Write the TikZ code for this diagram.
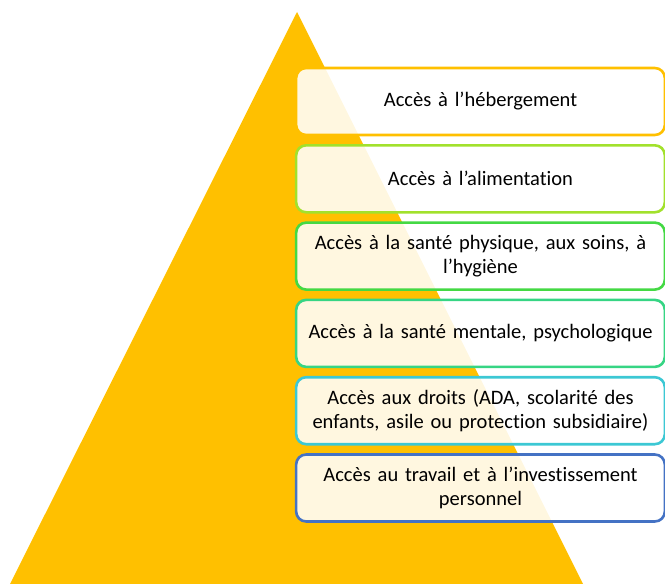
\documentclass[tikz,border=0pt]{standalone}
\usepackage{fontspec}
\setmainfont{Carlito}[Ligatures=NoCommon]
\usetikzlibrary{positioning}

\definecolor{pyramid}{HTML}{FFC000}
\definecolor{lvlA}{HTML}{FFC000}
\definecolor{lvlB}{HTML}{A2E12C}
\definecolor{lvlC}{HTML}{44D944}
\definecolor{lvlD}{HTML}{36D584}
\definecolor{lvlE}{HTML}{3CC8D4}
\definecolor{lvlF}{HTML}{4472C4}

\begin{document}
\begin{tikzpicture}[x=1pt, y=-1pt, node distance={7.7pt},
    level/.style = {draw, rectangle, rounded corners=10pt, line width=2.6pt,
        fill=white, fill opacity=0.88, text opacity=1,
        minimum width=367pt, minimum height=67pt, text width=362pt,
        align=center, font=\fontsize{20.5}{24}\selectfont}]
    \useasboundingbox (0,0) rectangle (665,584);
    \clip (0,0) rectangle (665,584);

    % the pyramid
    \fill[pyramid] (297,12) -- (583,584) -- (10,584) -- cycle;

    % the levels, top to bottom
    \node[level, draw=lvlA] (heb) at (480.5,101.5) {Accès à l’hébergement};
    \node[level, draw=lvlB] (alim) [below=of heb] {Accès à l’alimentation};
    \node[level, draw=lvlC] (sante) [below=of alim] {Accès à la santé physique, aux soins, à\\ l’hygiène};
    \node[level, draw=lvlD] (mental) [below=of sante] {Accès à la santé mentale, psychologique};
    \node[level, draw=lvlE] (droits) [below=of mental] {Accès aux droits (ADA, scolarité des\\ enfants, asile ou protection subsidiaire)};
    \node[level, draw=lvlF] (travail) [below=of droits] {Accès au travail et à l’investissement\\ personnel};
\end{tikzpicture}
\end{document}
